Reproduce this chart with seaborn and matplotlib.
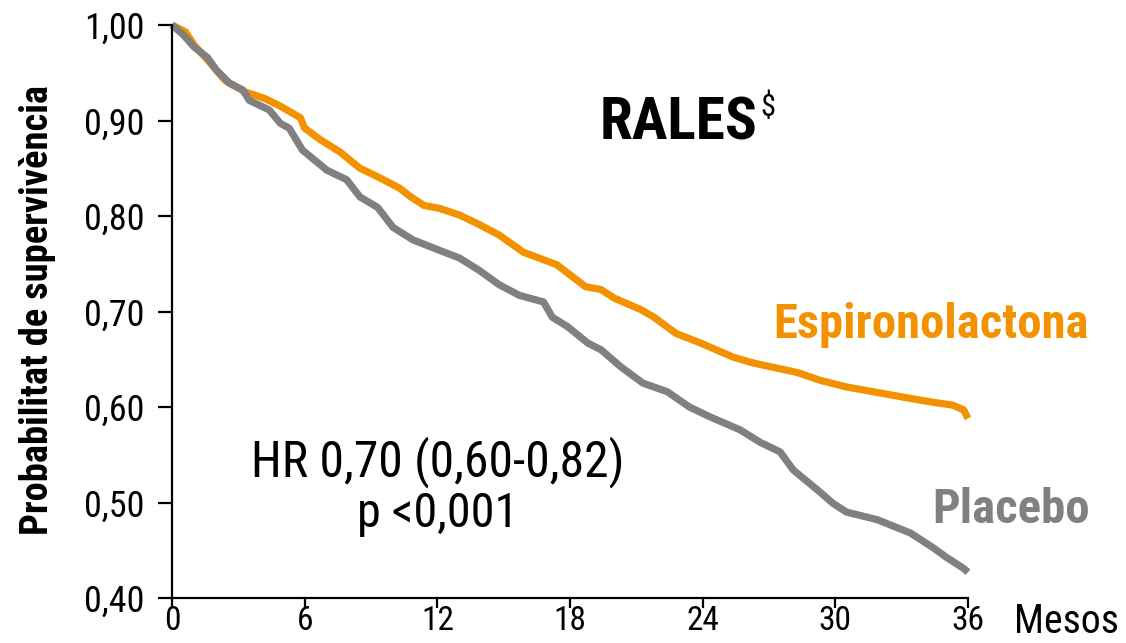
import matplotlib
matplotlib.use("Agg")
import matplotlib.pyplot as plt
from matplotlib import font_manager
import seaborn as sns
import pandas as pd

# Corbes de supervivència (llegides a ull del gràfic original)
mesos_espiro = [0, 0.6, 1.0, 1.7, 2.4, 3.3, 4.2, 4.9, 5.8, 6.0, 6.7, 7.6, 8.5, 9.4, 10.3, 10.8,
                11.4, 12.1, 13.0, 13.9, 14.8, 15.9, 17.4, 18.7, 19.4, 20.0, 21.2, 21.8, 22.8,
                23.9, 25.4, 26.3, 28.3, 29.3, 30.5, 31.7, 33.4, 34.4, 35.3, 35.8, 36.0]
surv_espiro = [1.000, 0.993, 0.979, 0.961, 0.942, 0.930, 0.923, 0.915, 0.903, 0.892, 0.880,
               0.867, 0.850, 0.840, 0.829, 0.820, 0.811, 0.808, 0.801, 0.791, 0.780, 0.762,
               0.749, 0.726, 0.723, 0.714, 0.702, 0.694, 0.677, 0.667, 0.652, 0.646, 0.636,
               0.628, 0.621, 0.616, 0.609, 0.605, 0.602, 0.597, 0.588]

mesos_placebo = [0, 0.5, 1.0, 1.6, 2.0, 2.6, 3.2, 3.5, 4.4, 4.9, 5.3, 5.9, 7.0, 7.9, 8.5, 9.3,
                 10.0, 10.9, 12.1, 13.0, 13.9, 14.8, 15.7, 16.8, 17.2, 17.9, 18.8, 19.4, 20.3,
                 21.3, 22.4, 23.4, 24.3, 25.7, 26.6, 27.5, 28.1, 29.2, 29.9, 30.5, 31.9, 33.4,
                 34.4, 35.0, 35.8, 36.0]
surv_placebo = [1.000, 0.990, 0.977, 0.966, 0.953, 0.939, 0.932, 0.921, 0.911, 0.897, 0.892,
                0.869, 0.848, 0.838, 0.820, 0.809, 0.788, 0.775, 0.764, 0.756, 0.743, 0.728,
                0.717, 0.710, 0.694, 0.684, 0.667, 0.660, 0.642, 0.625, 0.616, 0.600, 0.590,
                0.576, 0.563, 0.553, 0.534, 0.513, 0.499, 0.490, 0.482, 0.468, 0.453, 0.443,
                0.431, 0.427]

grups = ["Espironolactona", "Placebo"]
colors = {"Espironolactona": "#F39200", "Placebo": "#808080"}
xticks = [0, 6, 12, 18, 24, 30, 36]
yticks = [0.40, 0.50, 0.60, 0.70, 0.80, 0.90, 1.00]
yticklabels = ["0,40", "0,50", "0,60", "0,70", "0,80", "0,90", "1,00"]

df = pd.concat([
    pd.DataFrame({"mes": mesos_espiro, "surv": surv_espiro, "grup": grups[0]}),
    pd.DataFrame({"mes": mesos_placebo, "surv": surv_placebo, "grup": grups[1]}),
])

sns.set_style("ticks")
# font estreta si n'hi ha una
disponibles = {f.name for f in font_manager.fontManager.ttflist}
font = "Roboto"
for nom in ["Liberation Sans Narrow", "Roboto Condensed", "Open Sans Condensed", "Noto Sans Condensed"]:
    if nom in disponibles:
        font = nom
        break
plt.rcParams['font.family'] = [font, 'DejaVu Sans']
plt.rcParams['text.color'] = 'black'
plt.rcParams['axes.labelcolor'] = 'black'

fig = plt.figure(figsize=(11.26, 6.43), dpi=100)
ax = fig.add_axes([172 / 1126, 1 - 598 / 643, (968 - 172) / 1126, (598 - 25) / 643])

sns.lineplot(data=df, x="mes", y="surv", hue="grup", palette=colors, hue_order=grups,
             estimator=None, sort=False, linewidth=5.2, legend=False, ax=ax,
             clip_on=False, solid_capstyle="butt")

ax.set_xlim(0, 36)
ax.set_ylim(0.40, 1.00)
ax.set_xticks(xticks)
ax.set_yticks(yticks)
ax.set_yticklabels(yticklabels)
ax.set_xlabel("")
ax.set_ylabel("Probabilitat de supervivència", fontsize=26, fontweight="bold")
ax.yaxis.set_label_coords(-0.146, 0.503)

sns.despine(ax=ax)
for s in ["left", "bottom"]:
    ax.spines[s].set_linewidth(1.6)
    ax.spines[s].set_color("black")
ax.tick_params(axis="y", length=10, width=1.6, pad=10, labelsize=26, colors="black")
ax.tick_params(axis="x", length=7, width=1.6, pad=-2, labelsize=24, colors="black")

# textos
t_rales = ax.text(19.36, 0.880, "RALES", fontsize=43, fontweight="bold", ha="left", va="baseline")
t_espiro = ax.text(27.2, 0.672, "Espironolactona", fontsize=35, fontweight="bold",
                   color=colors["Espironolactona"], ha="left", va="baseline")
t_plac = ax.text(34.4, 0.479, "Placebo", fontsize=35, fontweight="bold",
                 color=colors["Placebo"], ha="left", va="baseline")
t_hr = ax.text(12.0, 0.527, "HR 0,70 (0,60-0,82)", fontsize=35, ha="center", va="baseline")
t_p = ax.text(12.0, 0.474, "p <0,001", fontsize=35, ha="center", va="baseline")
t_mes = ax.text(38.1, 0.363, "Mesos", fontsize=26, ha="left", va="baseline", clip_on=False)

# ajustar mida a l'amplada del original (px)
amplades = [(t_rales, 158), (t_espiro, 315), (t_plac, 157), (t_hr, 373), (t_p, 161),
            (t_mes, 105), (ax.yaxis.label, 450)]
fig.canvas.draw()
r = fig.canvas.get_renderer()
for t, w in amplades:
    bb = t.get_window_extent(r)
    mida = max(bb.width, bb.height) if t is ax.yaxis.label else bb.width
    t.set_fontsize(t.get_fontsize() * w / mida)

ax.annotate(r"\$", xy=(1.0, 1.0), xycoords=t_rales, xytext=(2, 2), textcoords="offset points",
            fontsize=22, ha="left", va="top")

plt.savefig("out.png", dpi=100)
